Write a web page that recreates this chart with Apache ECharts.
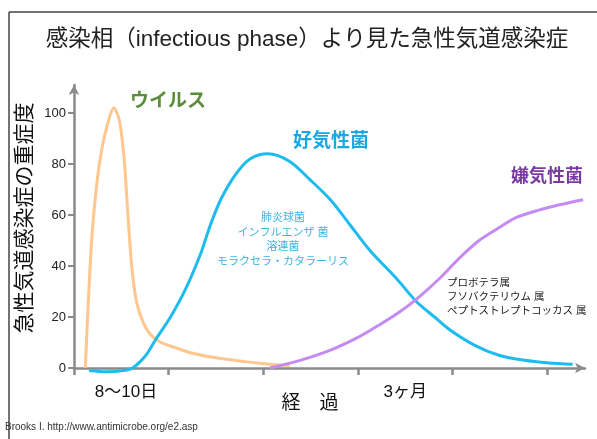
<!DOCTYPE html>
<html>
<head>
<meta charset="utf-8">
<script src="https://cdn.jsdelivr.net/npm/echarts@6/dist/echarts.min.js"></script>
<style>
  html, body { margin: 0; padding: 0; background: #fff; }
  #chart { width: 597px; height: 439px; }
</style>
</head>
<body>
<div id="chart"></div>
<script>
// x in "time units" (one tick = 1), y = severity
const virus = [[0.12,0],[0.15,25],[0.19,52],[0.24,72],[0.29,85],[0.35,95],[0.42,102],[0.48,97],[0.53,82],[0.57,60],[0.61,40],[0.66,26],[0.73,18],[0.81,13],[0.92,10],[1.07,8],[1.23,6],[1.5,4],[1.81,2.5],[2.07,1.5],[2.28,1]]
const aerobic = [[0.16,-1],[0.34,-1.5],[0.52,-1],[0.62,0],[0.76,5],[0.86,11],[1.02,20],[1.18,31],[1.34,45],[1.44,56],[1.55,66],[1.71,76],[1.86,82],[2.05,84],[2.28,81],[2.49,74],[2.71,66],[2.92,56],[3.13,46],[3.41,35],[3.62,26],[3.81,20],[3.97,15],[4.23,9],[4.49,5],[4.76,3],[5.02,2],[5.27,1.5]]
const anaerobic = [[2.07,0],[2.39,3],[2.71,7],[3.0,12],[3.23,17],[3.44,22],[3.62,27],[3.86,35],[4.07,43],[4.28,50],[4.49,55],[4.67,59],[4.92,62],[5.13,64],[5.38,66]]
const xTicks = [0, 1, 2, 3, 4, 5]
const xLabels = { 0.55: '8〜10日', 3.5: '3ヶ月' }
const yTicks = [0, 20, 40, 60, 80, 100]
const aerobicNames = ['肺炎球菌', 'インフルエンザ 菌', '溶連菌', 'モラクセラ・カタラーリス']
const anaerobicNames = ['プロボテラ属', 'フソバクテリウム 属', 'ペプトストレプトコッカス 属']

const FONT = "'Liberation Sans', 'Noto Sans CJK JP', sans-serif"
const axisColor = '#8a8a8a'

const myChart = echarts.init(document.getElementById('chart'))

const lineSeries = (name, data, color) => ({
  name: name,
  type: 'line',
  data: data,
  smooth: 0.3,
  showSymbol: false,
  clip: false,
  lineStyle: { color: color, width: 3 },
  itemStyle: { color: color }
})

const option = {
  backgroundColor: '#fff',
  animation: false,
  textStyle: { fontFamily: FONT },
  grid: { left: 74, right: 12, top: 85, bottom: 71 },
  xAxis: {
    type: 'value',
    min: 0,
    max: 5.4,
    splitLine: { show: false },
    axisLine: { lineStyle: { color: axisColor, width: 2.5 }, symbol: ['none', 'arrow'], symbolSize: [8, 10] },
    axisTick: { length: 7, lineStyle: { color: axisColor, width: 2.5 }, customValues: xTicks },
    axisLabel: {
      customValues: [0.55, 3.5],
      formatter: v => xLabels[v] || '',
      color: '#111',
      fontSize: 17,
      margin: 16
    }
  },
  yAxis: {
    type: 'value',
    min: 0,
    max: 111,
    splitLine: { show: false },
    axisLine: { lineStyle: { color: axisColor, width: 2.5 }, symbol: ['none', 'arrow'], symbolSize: [8, 10] },
    axisTick: { length: 6, lineStyle: { color: axisColor, width: 2 }, customValues: yTicks },
    axisLabel: { customValues: yTicks, color: '#222', fontSize: 13, margin: 8 }
  },
  series: [
    lineSeries('ウイルス', virus, '#ffc68e'),
    lineSeries('好気性菌', aerobic, '#1ebbee'),
    lineSeries('嫌気性菌', anaerobic, '#c48cf2')
  ],
  graphic: [
    { type: 'line', shape: { x1: 9, y1: 12, x2: 597, y2: 12 }, style: { stroke: '#444', lineWidth: 1.5 } },
    { type: 'line', shape: { x1: 9, y1: 12, x2: 9, y2: 439 }, style: { stroke: '#444', lineWidth: 1.5 } },
    { type: 'text', x: 307, y: 40, style: { text: '感染相（infectious phase）より見た急性気道感染症', fill: '#222', font: '22.5px ' + FONT, textAlign: 'center', textVerticalAlign: 'middle' } },
    { type: 'text', x: 25, y: 218, rotation: Math.PI / 2, style: { text: '急性気道感染症の重症度', fill: '#111', font: '21px ' + FONT, textAlign: 'center', textVerticalAlign: 'middle' } },
    { type: 'text', x: 310, y: 404, style: { text: '経　過', fill: '#111', font: '19px ' + FONT, textAlign: 'center', textVerticalAlign: 'middle' } },
    { type: 'text', x: 168, y: 102, style: { text: 'ウイルス', fill: '#5b8c3a', font: 'bold 19px ' + FONT, textAlign: 'center', textVerticalAlign: 'middle' } },
    { type: 'text', x: 331, y: 142, style: { text: '好気性菌', fill: '#1aa8e2', font: 'bold 19px ' + FONT, textAlign: 'center', textVerticalAlign: 'middle' } },
    { type: 'text', x: 547, y: 177, style: { text: '嫌気性菌', fill: '#7a3aa0', font: 'bold 18px ' + FONT, textAlign: 'center', textVerticalAlign: 'middle' } },
    { type: 'text', x: 283, y: 240, style: { text: aerobicNames.join('\n'), fill: '#3ab4e0', font: '11px ' + FONT, lineHeight: 14.5, textAlign: 'center', textVerticalAlign: 'middle' } },
    { type: 'text', x: 447, y: 297, style: { text: anaerobicNames.join('\n'), fill: '#222', font: '10.5px ' + FONT, lineHeight: 14, textAlign: 'left', textVerticalAlign: 'middle' } },
    { type: 'text', x: 5, y: 427, style: { text: 'Brooks I. http://www.antimicrobe.org/e2.asp', fill: '#333', font: '10px ' + FONT, textAlign: 'left', textVerticalAlign: 'middle' } }
  ]
}

myChart.setOption(option)
</script>
</body>
</html>
